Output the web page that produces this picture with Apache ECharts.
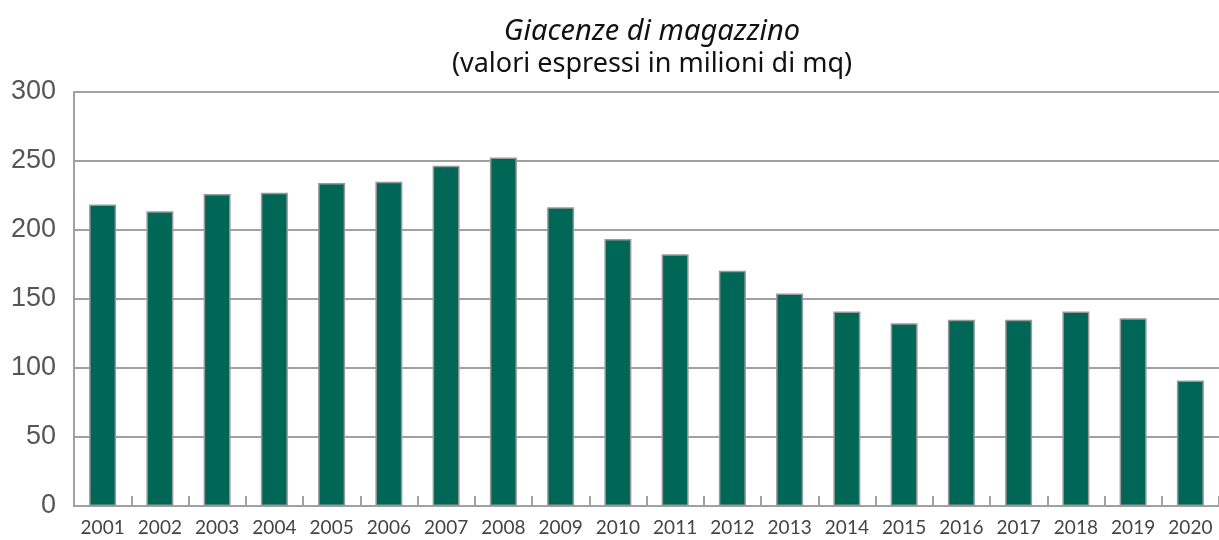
<!DOCTYPE html>
<html>
<head>
<meta charset="utf-8">
<script src="https://cdn.jsdelivr.net/npm/echarts@6/dist/echarts.min.js"></script>
<style>
  html, body { margin: 0; padding: 0; background: #fff; }
  #chart { width: 1219px; height: 540px; }
</style>
</head>
<body>
<div id="chart"></div>
<script>
const years = ["2001", "2002", "2003", "2004", "2005", "2006", "2007", "2008", "2009", "2010",
  "2011", "2012", "2013", "2014", "2015", "2016", "2017", "2018", "2019", "2020"];
const stock = [218.5, 213.5, 226, 227, 234, 235, 246.5, 252.5, 216.5, 193.5,
  182.5, 170.5, 154, 141, 132.5, 135, 135, 141, 136, 91];
const yTicks = [0, 50, 100, 150, 200, 250, 300];

const titleText = "Giacenze di magazzino";
const subtitleText = "(valori espressi in milioni di mq)";

const gray = "#a0a0a0";

const chart = echarts.init(document.getElementById("chart"), null, { renderer: "canvas" });
chart.setOption({
  animation: false,
  title: {
    text: titleText,
    subtext: subtitleText,
    left: 647,
    textAlign: "center",
    top: 12,
    itemGap: 5,
    textStyle: {
      fontFamily: "'Noto Sans', 'Open Sans', sans-serif",
      fontStyle: "italic",
      fontWeight: "normal",
      fontSize: 29,
      color: "#111",
    },
    subtextStyle: {
      fontFamily: "'Noto Sans', 'Open Sans', sans-serif",
      fontSize: 27,
      color: "#111",
    },
  },
  grid: { left: 74, right: 0, top: 92, bottom: 34, containLabel: false },
  xAxis: {
    type: "category",
    data: years,
    axisLine: { show: true, lineStyle: { color: gray, width: 2 } },
    axisTick: { show: true, inside: true, length: 10, interval: 0, lineStyle: { color: gray, width: 2 } },
    axisLabel: {
      interval: 0,
      margin: 12,
      fontFamily: "Lato, 'Noto Sans', sans-serif",
      fontSize: 19,
      color: "#444",
    },
  },
  yAxis: {
    type: "value",
    min: yTicks[0],
    max: yTicks[yTicks.length - 1],
    interval: 50,
    axisLine: { show: true, lineStyle: { color: gray, width: 2 } },
    axisTick: { show: false },
    axisLabel: {
      margin: 18,
      fontFamily: "'Liberation Sans', Arial, sans-serif",
      fontSize: 27,
      color: "#555",
    },
    splitLine: { show: true, lineStyle: { color: gray, width: 2 } },
  },
  series: [
    {
      type: "bar",
      data: stock,
      barWidth: 27,
      itemStyle: { color: "#006655", borderColor: "#999", borderWidth: 1.5 },
    },
  ],
});
</script>
</body>
</html>
